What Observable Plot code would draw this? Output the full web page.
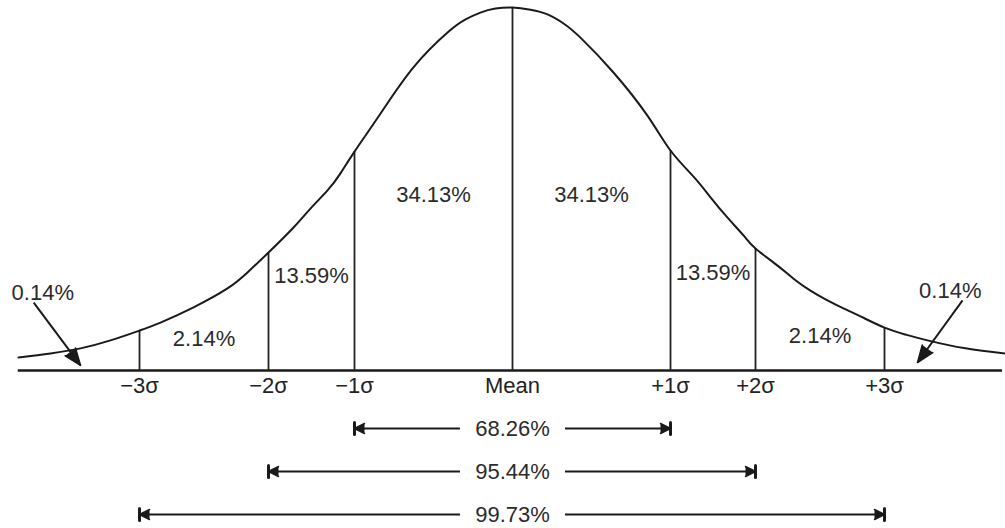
<!DOCTYPE html>
<html><head><meta charset="utf-8">
<script src="https://cdn.jsdelivr.net/npm/d3@7"></script>
<script src="https://cdn.jsdelivr.net/npm/@observablehq/plot@0.6"></script>
<style>
html,body{margin:0;padding:0;background:#fff;}
#chart svg{display:block;}
</style></head><body><div id="chart"></div>
<script>
// ---- data ----
const sigmaTicks = [-3, -2, -1, 0, 1, 2, 3];
const tickLabels = ["−3σ", "−2σ", "−1σ", "Mean", "+1σ", "+2σ", "+3σ"];
const regionLabels = ["2.14%", "13.59%", "34.13%", "34.13%", "13.59%", "2.14%"];
const tailLabels = ["0.14%", "0.14%"];
const coverageK = [1, 2, 3];
const coverageLabels = ["68.26%", "95.44%", "99.73%"];
// curve (x in σ units, height relative to the peak)
const curveZ = [-3.938, -3.690, -3.457, -3.225, -3, -2.837, -2.581, -2.318, -2.163, -2, -1.709, -1.512, -1.314, -1.163, -1, -0.835, -0.627, -0.411, -0.297, -0.203, -0.108, 0,
  0.114, 0.222, 0.323, 0.430, 0.639, 0.854, 1, 1.271, 1.471, 1.671, 1.859, 2, 2.171, 2.295, 2.426, 2.558, 2.682, 2.814, 3, 3.163, 3.333, 3.628, 3.938];
const curveH = [0.036, 0.047, 0.061, 0.083, 0.110, 0.132, 0.174, 0.226, 0.270, 0.325, 0.394, 0.446, 0.496, 0.543, 0.603, 0.708, 0.835, 0.931, 0.967, 0.986, 0.997, 1,
  0.994, 0.981, 0.956, 0.917, 0.821, 0.702, 0.606, 0.534, 0.477, 0.421, 0.372, 0.336, 0.289, 0.253, 0.220, 0.193, 0.171, 0.149, 0.118, 0.099, 0.083, 0.061, 0.047];

// ---- derived tables ----
const curve = curveZ.map((z, i) => ({z, h: curveH[i]}));
const H = z => curve.find(d => d.z === z).h;
const bounds = sigmaTicks.map(z => ({z, h: H(z)}));
const regions = regionLabels.map((label, i) => {
  const a = sigmaTicks[i], b = sigmaTicks[i + 1];
  return {label, z: (a + b) / 2, h: 0.8 * Math.min(H(a), H(b))};
});
const tails = [
  {label: tailLabels[0], tx: -3.75, th: 0.215, x1: -3.82, y1: 0.187, x2: -3.457, y2: 0.014, rot: 143},
  {label: tailLabels[1], tx: 3.51, th: 0.22, x1: 3.605, y1: 0.193, x2: 3.256, y2: 0.022, rot: 216}
];
const coverage = coverageK.map((k, i) => ({k, label: coverageLabels[i]}));
const ends = coverage.flatMap(d => [
  {label: d.label, x: -d.k, rot: 270},
  {label: d.label, x: d.k, rot: 90}
]);

// the hand-drawn figure spaces the σ marks unevenly: warp σ units onto the drawing
const warp = d3.scaleLinear().domain(sigmaTicks).range([139, 268, 354, 512, 670, 755, 884]);
const xOpt = {transform: z => warp(z), domain: [0, 1005], range: [0, 1005]};
const font = "'Liberation Sans', Arial, Helvetica, sans-serif";
const ink = "#1a1a1a";
const textInk = "#2b2b2b";
const bar = {draw(context, l) { context.moveTo(0, 0); context.lineTo(0, -l); }};

const curveChart = Plot.plot({
  width: 1005, height: 400,
  marginTop: 7, marginBottom: 30, marginLeft: 0, marginRight: 0,
  x: xOpt,
  y: {domain: [0, 1], axis: null},
  style: {fontFamily: font, background: "white", color: ink},
  marks: [
    Plot.ruleY([0], {x1: -3.94, x2: 3.915, stroke: ink, strokeWidth: 2.5}),
    Plot.ruleX(bounds, {x: "z", y1: 0, y2: "h", stroke: "#222", strokeWidth: 1.8}),
    Plot.line(curve, {x: "z", y: "h", curve: "natural", stroke: ink, strokeWidth: 2}),
    Plot.text(regions, {x: "z", y: "h", text: "label", fontSize: 22, fill: textInk}),
    Plot.text(tails, {x: "tx", y: "th", text: "label", fontSize: 22, fill: textInk}),
    Plot.link(tails, {x1: "x1", y1: "y1", x2: "x2", y2: "y2", stroke: ink, strokeWidth: 2}),
    Plot.vector(tails, {x: "x2", y: "y2", rotate: "rot", shape: "spike", anchor: "end", length: 17, r: 6.5, fill: ink, stroke: ink}),
    Plot.axisX(sigmaTicks, {tickSize: 0, tickPadding: 7, tickFormat: d => tickLabels[sigmaTicks.indexOf(d)], fontSize: 22, fill: "#222"})
  ]
});

const rangeChart = Plot.plot({
  width: 1005, height: 128,
  marginTop: 28, marginBottom: 14, marginLeft: 0, marginRight: 0,
  x: {...xOpt, axis: null},
  y: {type: "point", domain: coverageLabels, padding: 0, axis: null},
  style: {fontFamily: font, background: "white", color: ink},
  marks: [
    Plot.ruleY(coverage, {x1: d => -d.k, x2: 0, y: "label", insetRight: 52, stroke: ink, strokeWidth: 2}),
    Plot.ruleY(coverage, {x1: 0, x2: d => d.k, y: "label", insetLeft: 53, stroke: ink, strokeWidth: 2}),
    Plot.text(coverage, {x: 0, y: "label", text: "label", fontSize: 22, fill: textInk}),
    Plot.vector(ends, {x: "x", y: "label", rotate: "rot", shape: "spike", anchor: "end", length: 10, r: 5, fill: ink, stroke: ink}),
    Plot.vector(ends, {x: "x", y: "label", shape: bar, anchor: "middle", length: 12, stroke: ink, strokeWidth: 3})
  ]
});

document.getElementById("chart").append(curveChart, rangeChart);
</script></body></html>
